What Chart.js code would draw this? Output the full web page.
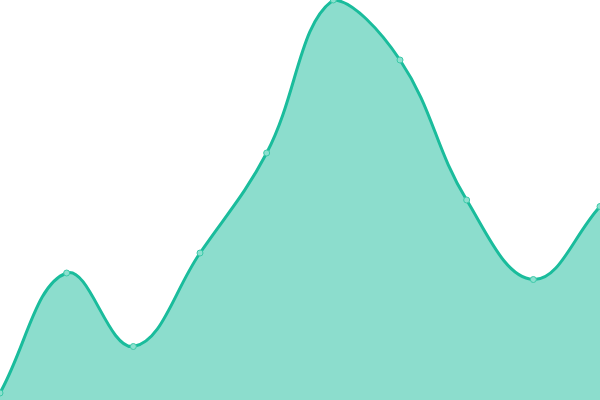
<!DOCTYPE html>
<html><head><meta charset="utf-8">
<script src="https://cdn.jsdelivr.net/npm/chart.js@4"></script>
<style>html,body{margin:0;padding:0;background:#fff}#w{width:600px;height:400px}</style>
</head><body><div id="w"><canvas id="c"></canvas></div>
<script>
const labels = ["1","2","3","4","5","6","7","8","9","10"];
const values = [7, 127, 53.5, 147, 247, 400, 340, 200, 120.5, 193.5];
new Chart(document.getElementById('c'), {
  type: 'line',
  data: { labels: labels, datasets: [{
    data: values,
    fill: 'origin',
    backgroundColor: 'rgba(26,188,156,0.5)',
    borderColor: '#1abc9c',
    borderWidth: 3,
    tension: 0.4,
    pointRadius: 3,
    pointBackgroundColor: '#8ce0cf',
    pointBorderColor: '#3cc9a8',
    pointBorderWidth: 1
  }]},
  options: {
    responsive: true, maintainAspectRatio: false, animation: false,
    layout: { padding: 0, autoPadding: false },
    plugins: { legend: { display: false }, tooltip: { enabled: false } },
    scales: {
      x: { display: false, offset: false },
      y: { display: false, min: 0, max: 400 }
    }
  }
});
</script></body></html>
